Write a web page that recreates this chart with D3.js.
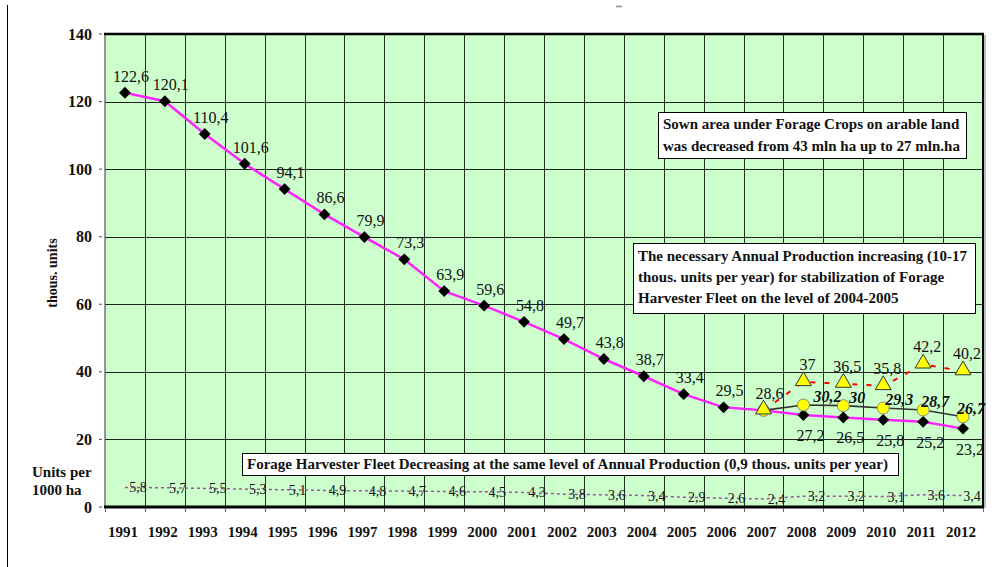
<!DOCTYPE html>
<html><head><meta charset="utf-8">
<script src="https://cdn.jsdelivr.net/npm/d3@7"></script>
<style>body{margin:0;background:#fff;}svg{display:block;} text{font-family:"Liberation Serif","Times New Roman","DejaVu Serif",serif;}</style>
</head><body>
<svg id="c" width="1003" height="567"></svg>
<script>
const years = ["1991","1992","1993","1994","1995","1996","1997","1998","1999","2000","2001","2002","2003","2004","2005","2006","2007","2008","2009","2010","2011","2012"];
const fleet = [122.6,120.1,110.4,101.6,94.1,86.6,79.9,73.3,63.9,59.6,54.8,49.7,43.8,38.7,33.4,29.5,28.6,27.2,26.5,25.8,25.2,23.2];
const stabYears = ["2007","2008","2009","2010","2011","2012"];
const stabFleet = [28.6,30.2,30,29.3,28.7,26.7];
const needProd = [28.6,37,36.5,35.8,42.2,40.2];
const per1000 = [5.8,5.7,5.5,5.3,5.1,4.9,4.8,4.7,4.6,4.5,4.3,3.8,3.6,3.4,2.9,2.6,2.4,3.2,3.2,3.1,3.6,3.4];
const yTicks = [0,20,40,60,80,100,120,140];
const note1 = ["Sown area under Forage Crops on arable land","was decreased from 43 mln ha up to 27 mln.ha"];
const note2 = ["The necessary Annual Production increasing (10-17","thous. units per year) for stabilization of Forage","Harvester Fleet on the level of 2004-2005"];
const note3 = ["Forage Harvester Fleet Decreasing at the same level of Annual Production (0,9 thous. units per year)"];

const fmt = v => String(v).replace(".", ",");
const svg = d3.select("#c");
const L = 105, R = 983, T = 34, B = 507;
const x = d3.scaleBand().domain(years).range([L, R]).padding(0);
const cx = d => x(d) + x.bandwidth() / 2;
const y = d3.scaleLinear().domain([0, 140]).range([B, T]);

// left frame line and top mark
svg.append("line").attr("x1", 7.5).attr("x2", 7.5).attr("y1", 5).attr("y2", 567).attr("stroke", "#000").attr("stroke-width", 1);
svg.append("line").attr("x1", 616).attr("x2", 622).attr("y1", 6.5).attr("y2", 6.5).attr("stroke", "#888").attr("stroke-width", 1.5);

// plot background + shadow
svg.append("rect").attr("x", R + 1).attr("y", T + 1).attr("width", 2).attr("height", B - T).attr("fill", "#bbb");
svg.append("rect").attr("x", L).attr("y", T).attr("width", R - L).attr("height", B - T).attr("fill", "#ccffcc");

// gridlines
const g = svg.append("g");
g.selectAll("line.h").data(yTicks.filter(t => t > 0 && t < 140)).enter().append("line")
  .attr("x1", L).attr("x2", R).attr("y1", d => Math.round(y(d)) + 0.5).attr("y2", d => Math.round(y(d)) + 0.5)
  .attr("stroke", "#222").attr("stroke-width", 1);
g.selectAll("line.v").data(years.slice(1)).enter().append("line")
  .attr("x1", d => Math.round(x(d)) + 0.5).attr("x2", d => Math.round(x(d)) + 0.5).attr("y1", T).attr("y2", B)
  .attr("stroke", "#223322").attr("stroke-width", 1);

// borders
svg.append("line").attr("x1", L).attr("x2", L).attr("y1", T).attr("y2", B).attr("stroke", "#555").attr("stroke-width", 1.2);
svg.append("line").attr("x1", L - 1).attr("x2", R + 1).attr("y1", T).attr("y2", T).attr("stroke", "#000").attr("stroke-width", 2.5);
svg.append("line").attr("x1", R).attr("x2", R).attr("y1", T).attr("y2", B).attr("stroke", "#000").attr("stroke-width", 2);
svg.append("line").attr("x1", L - 1).attr("x2", R + 1).attr("y1", B).attr("y2", B).attr("stroke", "#000").attr("stroke-width", 3);

// x ticks and labels
const xa = svg.append("g");
xa.selectAll("line").data(years.concat(["end"])).enter().append("line")
  .attr("x1", (d, i) => i < years.length ? Math.round(x(d)) + 0.5 : R + 0.5)
  .attr("x2", (d, i) => i < years.length ? Math.round(x(d)) + 0.5 : R + 0.5)
  .attr("y1", B + 1).attr("y2", B + 5).attr("stroke", "#666").attr("stroke-width", 1);
xa.selectAll("text").data(years).enter().append("text")
  .attr("x", d => cx(d) - 2).attr("y", 537).attr("text-anchor", "middle")
  .attr("font-size", 15).attr("font-weight", "bold").attr("fill", "#111").text(d => d);

// y ticks and labels
const ya = svg.append("g");
ya.selectAll("line").data(yTicks).enter().append("line")
  .attr("x1", 99).attr("x2", 102).attr("y1", d => y(d)).attr("y2", d => y(d)).attr("stroke", "#666").attr("stroke-width", 1.2);
ya.selectAll("text").data(yTicks).enter().append("text")
  .attr("x", 92).attr("y", d => y(d) + 5.5).attr("text-anchor", "end")
  .attr("font-size", 16).attr("font-weight", "bold").attr("fill", "#111").text(d => d);

svg.append("text").attr("transform", "translate(57,273) rotate(-90)").attr("text-anchor", "middle")
  .attr("font-size", 14).attr("font-weight", "bold").attr("fill", "#111").text("thous. units");
svg.append("text").attr("x", 32).attr("y", 477).attr("font-size", 15).attr("font-weight", "bold").attr("fill", "#111").text("Units per");
svg.append("text").attr("x", 32).attr("y", 495).attr("font-size", 15).attr("font-weight", "bold").attr("fill", "#111").text("1000 ha");

// notes
function note(lines, x0, y0, w, h, lh, firstBase) {
  const ng = svg.append("g");
  ng.append("rect").attr("x", x0 + 0.5).attr("y", y0 + 0.5).attr("width", w).attr("height", h)
    .attr("fill", "#fff").attr("stroke", "#000").attr("stroke-width", 1);
  ng.selectAll("text").data(lines).enter().append("text")
    .attr("x", x0 + 5).attr("y", (d, i) => y0 + firstBase + i * lh)
    .attr("font-size", 15).attr("font-weight", "bold").attr("fill", "#111").text(d => d);
}
note(note1, 658, 112, 308, 46, 22, 17);
note(note2, 633, 243, 342, 70, 21, 18);

// per 1000 ha series
const line = d3.line().x(d => cx(d[0])).y(d => y(d[1]));
svg.append("path").datum(years.map((d, i) => [d, per1000[i]])).attr("d", line)
  .attr("fill", "none").attr("stroke", "#995599").attr("stroke-width", 1.5).attr("stroke-dasharray", "3,3");
svg.append("g").selectAll("text").data(per1000).enter().append("text")
  .attr("x", (d, i) => cx(years[i]) + (i === years.length - 1 ? 9 : 13)).attr("y", d => y(d) + 5).attr("text-anchor", "middle")
  .attr("font-size", 14).attr("fill", "#111").text(d => fmt(d));

note(note3, 242, 453, 656, 22, 0, 16);

// main fleet series
svg.append("path").datum(years.map((d, i) => [d, fleet[i]])).attr("d", line)
  .attr("fill", "none").attr("stroke", "#ff22ff").attr("stroke-width", 2.5);
const diamond = d3.symbol().type(d3.symbolSquare).size(70);
svg.append("g").selectAll("path").data(fleet).enter().append("path")
  .attr("d", diamond).attr("transform", (d, i) => `translate(${cx(years[i])},${y(d)}) rotate(45)`).attr("fill", "#000");
svg.append("g").selectAll("text").data(fleet).enter().append("text")
  .attr("x", (d, i) => cx(years[i]) + (i > 16 ? 7 : 6))
  .attr("y", (d, i) => y(d) + (i > 16 ? 26 : -11))
  .attr("text-anchor", "middle").attr("font-size", 16).attr("fill", "#111").text(d => fmt(d));

// stabilization series (black line + yellow circles)
svg.append("path").datum(stabYears.map((d, i) => [d, stabFleet[i]])).attr("d", line)
  .attr("fill", "none").attr("stroke", "#333").attr("stroke-width", 1.6);
svg.append("g").selectAll("circle").data(stabFleet).enter().append("circle")
  .attr("cx", (d, i) => cx(stabYears[i])).attr("cy", d => y(d)).attr("r", 6)
  .attr("fill", "#ffff00").attr("stroke", "#888").attr("stroke-width", 1);
svg.append("g").selectAll("text").data(stabFleet.slice(1)).enter().append("text")
  .attr("x", (d, i) => cx(stabYears[i + 1]) + 10 - 4 * i).attr("y", d => y(d) - 3)
  .attr("font-size", 16).attr("font-weight", "bold").attr("font-style", "italic").attr("fill", "#111").text(d => fmt(d));

// necessary production series (red dashed + triangles)
svg.append("path").datum(stabYears.map((d, i) => [d, needProd[i]])).attr("d", line)
  .attr("fill", "none").attr("stroke", "#ff0000").attr("stroke-width", 2).attr("stroke-dasharray", "5,9");
const tri = d3.symbol().type(d3.symbolTriangle).size(110);
svg.append("g").selectAll("path").data(needProd).enter().append("path")
  .attr("d", tri).attr("transform", (d, i) => `translate(${cx(stabYears[i])},${y(d) - 1})`)
  .attr("fill", "#ffff00").attr("stroke", "#333").attr("stroke-width", 1);
svg.append("g").selectAll("text").data(needProd.slice(1)).enter().append("text")
  .attr("x", (d, i) => cx(stabYears[i + 1]) + 4).attr("y", d => y(d) - 12).attr("text-anchor", "middle")
  .attr("font-size", 16).attr("fill", "#111").text(d => fmt(d));
</script>
</body></html>
